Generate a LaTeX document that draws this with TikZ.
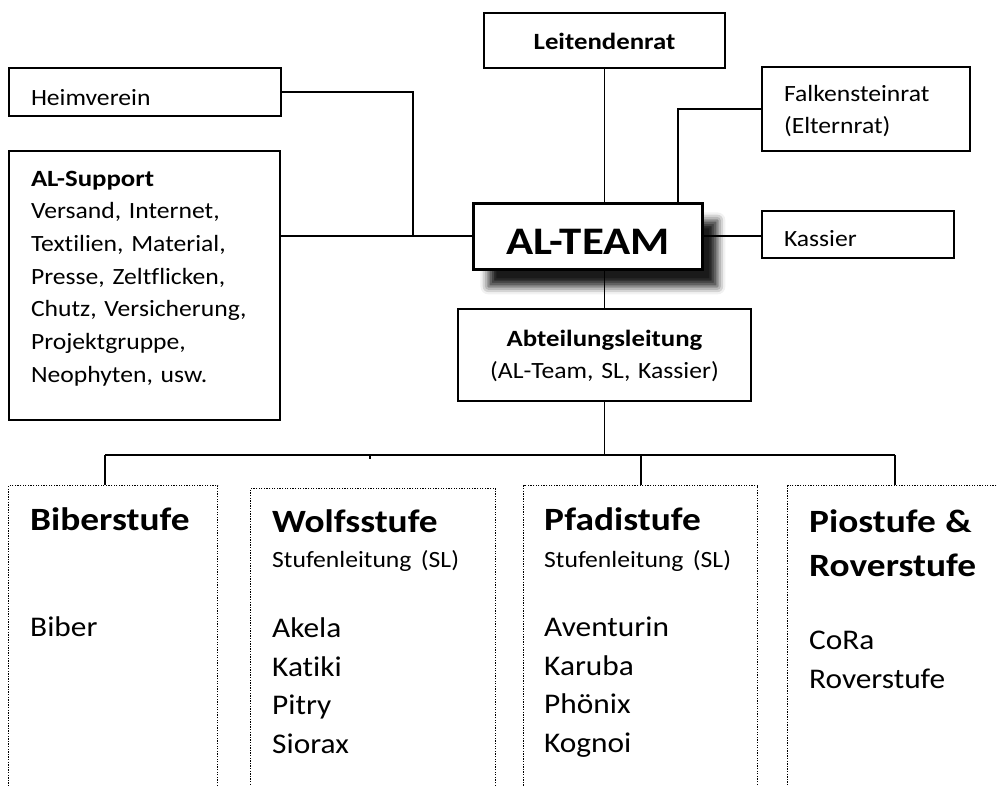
\documentclass[tikz,border=0pt]{standalone}
\usepackage{fontspec}
\setmainfont{Carlito}[FakeStretch=1.1, Ligatures=NoCommon, BoldFeatures={FakeStretch=1.15}]
\usetikzlibrary{positioning,shadows.blur}

\newcommand{\smallfnt}{\fontsize{23.3}{32.7}\selectfont}
\newcommand{\colfnt}{\fontsize{28.5}{38.7}\selectfont}
\newcommand{\headfnt}{\bfseries\fontsize{32.5}{43}\selectfont}

\tikzset{
  box/.style={draw, line width=2pt, inner xsep=22pt, inner ysep=0pt, align=left, anchor=north west, font=\smallfnt},
  colbox/.style={draw, line width=1.3pt, dash pattern=on 1.3pt off 1.3pt, inner sep=0pt, anchor=north west, minimum height=320pt},
  coltext/.style={inner sep=0pt, align=left, anchor=base west, text width=190pt, font=\colfnt},
  link/.style={line width=1.9pt}
}

\begin{document}
\begin{tikzpicture}[x=1pt, y=-1pt]
    \useasboundingbox (0,0) rectangle (998,785);

    % obere Reihe
    \node[box, text width=228pt, minimum height=48pt, text height=26pt, text depth=0pt] (heim) at (8,67) {Heimverein};
    \node[box, text width=227pt, minimum height=269pt, text height=20pt, text depth=219pt] (supp) at (8,150) {\textbf{AL-Support}\\Versand, Internet,\\Textilien, Material,\\Presse, Zeltflicken,\\Chutz, Versicherung,\\Projektgruppe,\\Neophyten, usw.};
    \node[box, align=center, text width=197pt, minimum height=55pt, text height=17pt, text depth=0pt, font=\smallfnt\bfseries] (leit) at (483,12) {Leitendenrat};
    \node[box, text width=164pt, minimum height=84pt, text height=20pt, text depth=36pt] (falk) at (761,66) {Falkensteinrat\\(Elternrat)};
    \node[box, text width=148pt, minimum height=47pt, text height=23pt, text depth=0pt] (kass) at (761,210) {Kassier};
    \node[box, align=center, text width=185pt, minimum height=66pt, text height=36pt, text depth=0pt, line width=2.8pt, fill=white,
          font=\bfseries\fontsize{39}{46}\selectfont,
          blur shadow={shadow xshift=15pt, shadow yshift=-17pt, shadow blur radius=8pt, shadow opacity=90}] (team) at (472,202) {AL-TEAM};
    \node[box, align=center, text width=249pt, minimum height=92pt, text height=18pt, text depth=36pt] (abt) at (457,308) {\textbf{Abteilungsleitung}\\(AL-Team, SL, Kassier)};

    % Stufen
    \node[colbox, minimum width=209pt] (biber) at (8,485) {};
    \node[colbox, minimum width=245pt] (wolf) at (250,488) {};
    \node[colbox, minimum width=234pt] (pfadi) at (523,485) {};
    \node[colbox, minimum width=216pt] (pio) at (787,485) {};

    \node[coltext] (biberTxt) at ([shift={(22,45)}]biber.north west) {{\headfnt Biberstufe}\\[68pt]Biber};
    \node[coltext] (wolfTxt) at ([shift={(22,44)}]wolf.north west) {{\headfnt Wolfsstufe}\\[-3pt]{\smallfnt Stufenleitung (SL)}\\[31pt]Akela\\Katiki\\Pitry\\Siorax};
    \node[coltext] (pfadiTxt) at ([shift={(21,45)}]pfadi.north west) {{\headfnt Pfadistufe}\\[-1pt]{\smallfnt Stufenleitung (SL)}\\[30pt]Aventurin\\Karuba\\Ph\"onix\\Kognoi};
    \node[coltext] (pioTxt) at ([shift={(22,47)}]pio.north west) {{\headfnt Piostufe \&}\\[6pt]{\headfnt Roverstufe}\\[34pt]CoRa\\Roverstufe};

    % Verbindungen
    \coordinate (hj) at (413,235);
    \draw[link] (team.west) -- (team.west -| supp.east);
    \draw[link] (heim.east) -| (hj);
    \draw[link] (leit.south) -- (leit.south |- team.north);
    \draw[link] (falk.west) -| ([xshift=90pt]team.north);
    \draw[link] (team.east) -- (team.east -| kass.west);
    \draw[link] (abt.north) -- (abt.north |- team.south);

    \coordinate (busL) at (105,455);
    \coordinate (busR) at (895,455);
    \draw[link] (busL) -- (busR);
    \draw[link] (abt.south) -- (abt.south |- busL);
    \draw[link] (busL) -- (busL |- biber.north);
    \draw[link] (pfadi.north |- busL) -- (pfadi.north);
    \draw[link] (busR) -- (busR |- pio.north);
    \draw[line width=1.4pt] (370,456) -- (370,459);
\end{tikzpicture}
\end{document}
